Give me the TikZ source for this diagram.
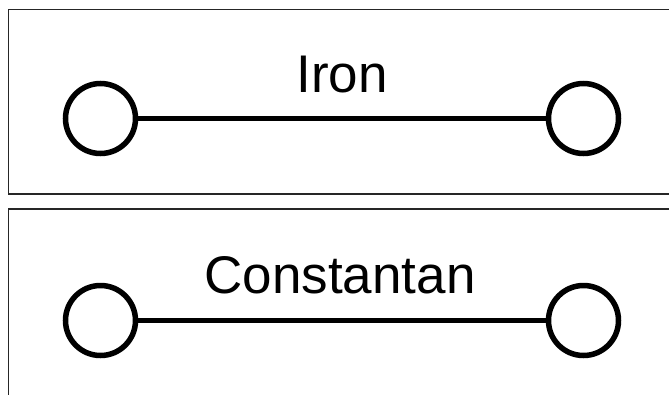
\documentclass[tikz,border=0pt]{standalone}
\usepackage{fontspec}
\setmainfont{Liberation Sans}
\begin{document}
\begin{tikzpicture}[x=1pt,y=-1pt,
  frame/.style={draw=black!85, line width=1.6pt},
  term/.style={circle, draw=black, line width=5.5pt, minimum size=70pt, inner sep=0pt},
  wire/.style={draw=black, line width=5pt},
  lab/.style={font=\fontsize{53}{60}\selectfont, inner sep=0pt, anchor=base}]
\useasboundingbox (0,0) rectangle (669,394);
\fill[white] (0,0) rectangle (669,394);
% frames
\draw[frame] (680,9.5) -- (8.5,9.5) -- (8.5,194) -- (680,194);
\draw[frame] (680,209) -- (8.5,209) -- (8.5,400);
% top
\node[term] (a1) at (100.5,118.5) {};
\node[term] (a2) at (583.5,118.5) {};
\draw[wire] (a1) -- (a2);
\node[lab] (t1) at (342,92) {Iron};
% bottom
\node[term] (b1) at (100.5,320.5) {};
\node[term] (b2) at (583.5,320.5) {};
\draw[wire] (b1) -- (b2);
\node[lab] (t2) at (340,293) {Constantan};
\end{tikzpicture}
\end{document}
